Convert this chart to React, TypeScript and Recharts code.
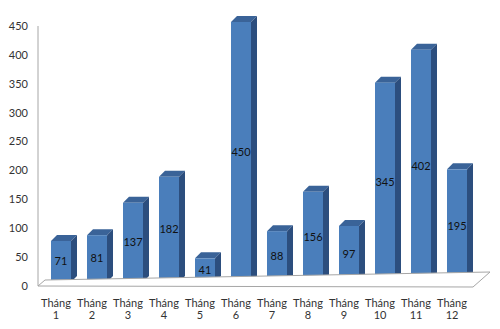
import React from 'react';
import { BarChart, Bar, XAxis, YAxis, ReferenceLine, LabelList } from 'recharts';

const months = ['1', '2', '3', '4', '5', '6', '7', '8', '9', '10', '11', '12'];
const counts = [71, 81, 137, 182, 41, 450, 88, 156, 97, 345, 402, 195];
const yTicks = [0, 50, 100, 150, 200, 250, 300, 350, 400, 450];

const data = months.map((m, i) => ({ month: m, count: counts[i] }));

// 3D look: front face is pushed back a little from the axis plane
const SHIFT_X = 5;
const SHIFT_Y = -4;
const DEPTH_X = 6;
const DEPTH_Y = 6;

const FONT = 'Lato, "Noto Sans", sans-serif';

const Bar3D = (props: any) => {
  const { x, y, width, height } = props;
  if (height == null || width == null) return null;
  const fx = x + SHIFT_X;
  const fy = y + SHIFT_Y;
  const r = fx + width;
  return (
    <g>
      <polygon
        points={`${fx},${fy} ${fx + DEPTH_X},${fy - DEPTH_Y} ${r + DEPTH_X},${fy - DEPTH_Y} ${r},${fy}`}
        fill="#3a6398"
      />
      <polygon
        points={`${r},${fy} ${r + DEPTH_X},${fy - DEPTH_Y} ${r + DEPTH_X},${fy + height - DEPTH_Y} ${r},${fy + height}`}
        fill="#2c4e7e"
      />
      <rect x={fx} y={fy} width={width} height={height} fill="#4a7ebb" />
    </g>
  );
};

const Floor = (props: any) => {
  const x1 = props.x1 ?? props.points?.[0]?.x;
  const x2 = props.x2 ?? props.points?.[1]?.x;
  const y = props.y1 ?? props.points?.[0]?.y;
  if (x1 == null || x2 == null || y == null) return null;
  const pts = `${x1},${y} ${x2 + 3},${y + 1} ${x2 + 20},${y - 14} ${x1 + 7},${y - 6}`;
  return <polygon points={pts} fill="#ffffff" stroke="#a6a6a6" strokeWidth={1} />;
};

const BarValue = (props: any) => {
  const { x, y, width, height, value } = props;
  return (
    <text
      x={x + SHIFT_X + width / 2}
      y={y + SHIFT_Y + height / 2}
      dy="0.35em"
      textAnchor="middle"
      fill="#111"
      fontSize={11}
      fontFamily={FONT}
    >
      {value}
    </text>
  );
};

const MonthTick = ({ x, y, payload }: any) => (
  <g transform={`translate(${x},${y})`}>
    <text textAnchor="middle" fill="#333" fontSize={11} fontFamily={FONT}>
      <tspan x={0} y={21}>Tháng</tspan>
      <tspan x={0} y={33}>{payload.value}</tspan>
    </text>
  </g>
);

export default function App() {
  return (
    <div style={{ position: 'absolute', left: 0, top: 0, background: '#fff', fontFamily: FONT }}>
      <BarChart
        width={500}
        height={329}
        data={data}
        margin={{ top: 26, right: 30, left: 0, bottom: 0 }}
        barSize={20}
      >
        <XAxis
          dataKey="month"
          height={43}
          axisLine={false}
          tickLine={false}
          tickSize={0}
          tickMargin={0}
          interval={0}
          tick={<MonthTick />}
        />
        <YAxis
          width={38}
          domain={[0, 450]}
          ticks={yTicks}
          axisLine={{ stroke: '#a6a6a6' }}
          tickLine={false}
          tickSize={0}
          tickMargin={10}
          tick={{ fill: '#333', fontSize: 11, fontFamily: FONT }}
        />
        <ReferenceLine y={0} shape={<Floor />} />
        <Bar dataKey="count" shape={<Bar3D />} isAnimationActive={false}>
          <LabelList dataKey="count" content={<BarValue />} />
        </Bar>
      </BarChart>
    </div>
  );
}
